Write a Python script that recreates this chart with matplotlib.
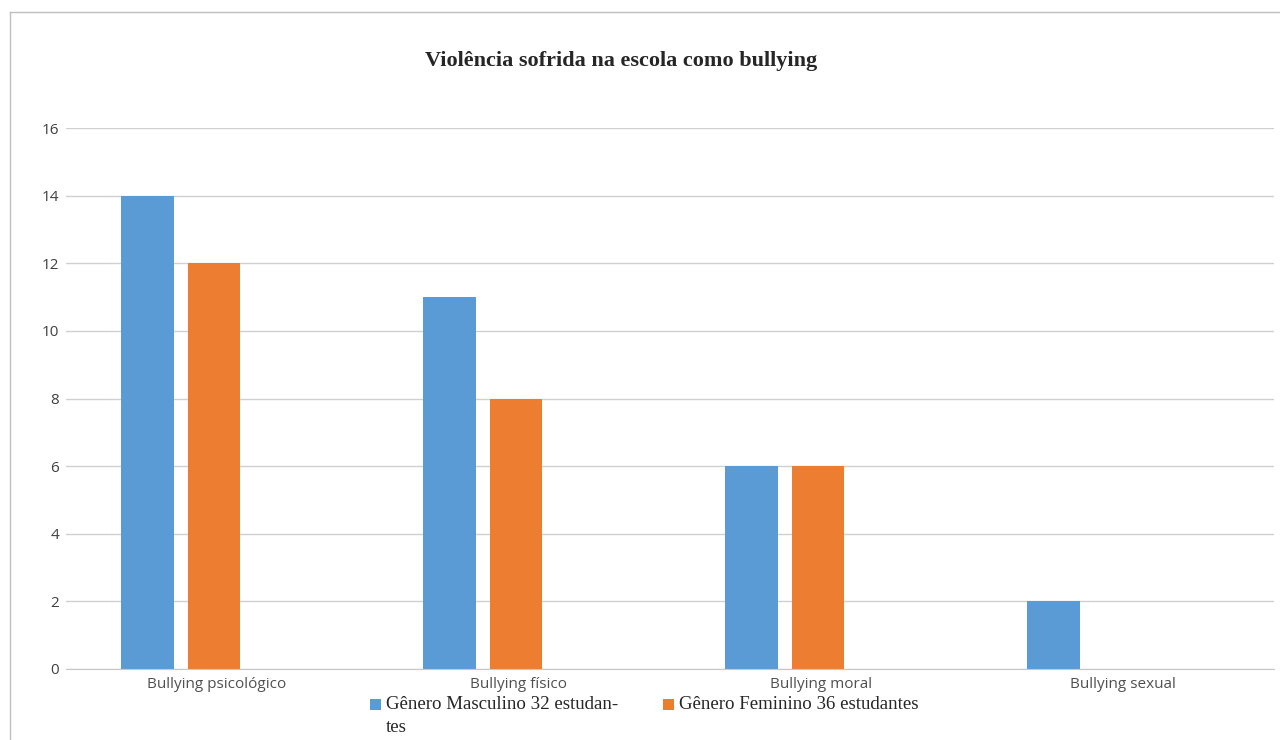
import matplotlib.pyplot as plt
from matplotlib.lines import Line2D
from matplotlib.patches import Rectangle
import numpy as np

# 数据
categorias = ['Bullying psicológico', 'Bullying físico', 'Bullying moral', 'Bullying sexual']
masculino = [14, 11, 6, 2]
feminino = [12, 8, 6, 0]
rotulos = ['Gênero Masculino 32 estudan-\ntes', 'Gênero Feminino 36 estudantes']
yticks = [0, 2, 4, 6, 8, 10, 12, 14, 16]

azul = '#5B9BD5'
laranja = '#ED7D31'

fig = plt.figure(figsize=(12.8, 7.4), dpi=100)
ax = fig.add_axes([66 / 1280, 1 - 669 / 740, 1208 / 1280, 541 / 740])

x = np.arange(len(categorias))
largura = 0.175
ax.bar(x - 0.23, masculino, largura, color=azul)
ax.bar(x - 0.01, feminino, largura, color=laranja)

ax.set_xlim(-0.5, len(categorias) - 0.5)
ax.set_ylim(0, 16)
ax.set_yticks(yticks)
ax.set_xticks(x)
ax.set_xticklabels(categorias, fontsize=11, color='#505050', family='Open Sans')
for lbl in ax.get_yticklabels():
    lbl.set_fontsize(11)
    lbl.set_color('#404040')
    lbl.set_family('Open Sans')
ax.tick_params(axis='x', length=0, pad=6)
ax.tick_params(axis='y', length=0, pad=5)
ax.yaxis.grid(True, color='#d0d0d0', linewidth=1)
ax.set_axisbelow(True)
for s in ['top', 'right', 'left']:
    ax.spines[s].set_visible(False)
ax.spines['bottom'].set_color('#c8c8c8')

# 标题
fig.text(621 / 1280, 1 - 61 / 740, 'Violência sofrida na escola como bullying',
         ha='center', va='center', fontsize=16, fontweight='bold',
         family='Liberation Serif', color='#262626')

# 图例（手动排版，第二行换行对齐文字）
W, H = 1280, 740
for cor, rotulo, x0 in [(azul, rotulos[0], 370), (laranja, rotulos[1], 663)]:
    fig.add_artist(Rectangle((x0 / W, 1 - 710 / H), 11 / W, 11 / H,
                             transform=fig.transFigure, color=cor, linewidth=0))
    fig.text((x0 + 16) / W, 1 - 696 / H, rotulo, ha='left', va='top',
             fontsize=13.6, family='Liberation Serif', color='#262626',
             linespacing=1.5)

# 外框
fig.add_artist(Line2D([10 / W, 10 / W], [0, 1 - 12 / H],
                      transform=fig.transFigure, color='#bfbfbf', linewidth=1))
fig.add_artist(Line2D([10 / W, 1], [1 - 12 / H, 1 - 12 / H],
                      transform=fig.transFigure, color='#bfbfbf', linewidth=1))

fig.savefig('out.png', dpi=100)
